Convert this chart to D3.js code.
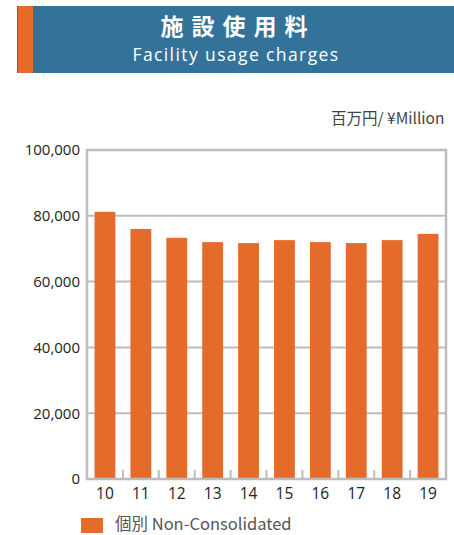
<!DOCTYPE html>
<html><head><meta charset="utf-8">
<script src="https://cdn.jsdelivr.net/npm/d3@7/dist/d3.min.js"></script>
<style>
body{margin:0;background:#fff;}
svg{display:block;}
</style></head>
<body>
<script>
const categories = ["10","11","12","13","14","15","16","17","18","19"];
const values = [81200, 76000, 73300, 72000, 71700, 72600, 72000, 71700, 72600, 74500];
const yTicks = [0, 20000, 40000, 60000, 80000, 100000];
const seriesName = "個別 Non-Consolidated";
const titleJa = "施設使用料";
const titleEn = "Facility usage charges";
const unitLabel = "百万円/ ¥Million";

const W = 454, H = 535;
const svg = d3.select("body").append("svg").attr("width", W).attr("height", H);
const font = "'Open Sans','Noto Sans CJK JP',sans-serif";
const orange = "#e46b2a", blue = "#337399", grid = "#bcbcbc";

// header
svg.append("rect").attr("x",17).attr("y",6).attr("width",W-17).attr("height",67).attr("fill",blue);
svg.append("rect").attr("x",18).attr("y",6).attr("width",15).attr("height",67).attr("fill",orange);
svg.append("text").attr("x",238).attr("y",35).attr("text-anchor","middle")
  .attr("font-family","'Noto Sans CJK JP',sans-serif").attr("font-weight","bold")
  .attr("font-size",23).attr("letter-spacing","8px").attr("fill","#fff").text(titleJa);
svg.append("text").attr("x",236).attr("y",61).attr("text-anchor","middle")
  .attr("font-family",font).attr("font-size",17.5).attr("letter-spacing","1.4px").attr("fill","#fff").text(titleEn);

// unit
svg.append("text").attr("x",331).attr("y",124).attr("font-family","'Noto Sans CJK JP','Open Sans',sans-serif")
  .attr("font-size",15.5).attr("fill","#444").text(unitLabel);

const x0 = 87, x1 = 446, yTop = 150, yBot = 479;
const x = d3.scaleBand().domain(categories).range([x0, x1]).paddingInner(0.42).paddingOuter(0.21);
const xb = d3.scaleBand().domain(categories).range([x0, x1]);
const y = d3.scaleLinear().domain([0, 100000]).range([yBot, yTop]);

// grid lines
svg.append("g").selectAll("line").data(yTicks.filter(d=>d>0 && d<100000)).join("line")
  .attr("x1",x0).attr("x2",x1).attr("y1",d=>y(d)).attr("y2",d=>y(d))
  .attr("stroke",grid).attr("stroke-width",2);

// bars
svg.append("g").selectAll("rect").data(values).join("rect")
  .attr("x",(d,i)=>x(categories[i])).attr("width",x.bandwidth())
  .attr("y",d=>y(d)).attr("height",d=>yBot-y(d)).attr("fill",orange);

// small ticks between bars
svg.append("g").selectAll("line").data(categories.slice(1)).join("line")
  .attr("x1",d=>xb(d)).attr("x2",d=>xb(d)).attr("y1",yBot).attr("y2",yBot-9)
  .attr("stroke",grid).attr("stroke-width",2);

// border
svg.append("rect").attr("x",x0).attr("y",yTop).attr("width",x1-x0).attr("height",yBot-yTop)
  .attr("fill","none").attr("stroke",grid).attr("stroke-width",2.5);

// y axis labels
const yAxis = d3.axisLeft(y).tickValues(yTicks).tickSize(0).tickPadding(7).tickFormat(d3.format(","));
const gy = svg.append("g").attr("transform",`translate(${x0},0)`).call(yAxis);
gy.select(".domain").remove();
gy.selectAll("text").attr("font-family",font).attr("font-size",15).attr("fill","#222");

// x axis labels
const xAxis = d3.axisBottom(xb).tickSize(0).tickPadding(9);
const gx = svg.append("g").attr("transform",`translate(0,${yBot})`).call(xAxis);
gx.select(".domain").remove();
gx.selectAll("text").attr("font-family",font).attr("font-size",15.5).attr("fill","#222");

// legend
svg.append("rect").attr("x",81).attr("y",518).attr("width",22).attr("height",15).attr("fill",orange);
svg.append("text").attr("x",115).attr("y",530).attr("font-family","'Noto Sans CJK JP','Open Sans',sans-serif")
  .attr("font-size",16.5).attr("fill","#555").text(seriesName);
</script>
</body></html>
